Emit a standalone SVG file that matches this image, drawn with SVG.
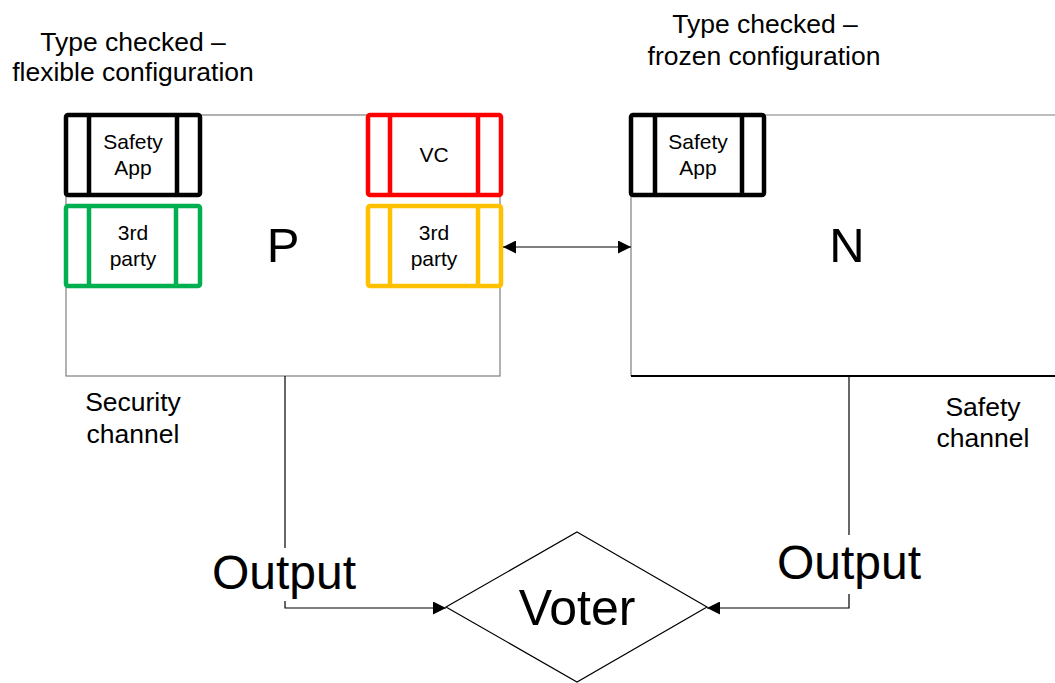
<svg xmlns="http://www.w3.org/2000/svg" width="1055" height="683" viewBox="0 0 1055 683">
<style>
text{font-family:"Liberation Sans",Arial,sans-serif;fill:#000;text-anchor:middle}
.lbl{font-size:26.5px}
.box{fill:#fff;stroke-width:4.5}
.bar{stroke-width:4.5}
.bt{font-size:21px}
.big{font-size:49px}
.huge{font-size:48px}
.vot{font-size:50px}
.con{fill:none;stroke:#000;stroke-width:1.2}
</style>
<defs>
<marker id="ah" viewBox="0 0 10 10" refX="10" refY="5" markerWidth="16" markerHeight="13" markerUnits="userSpaceOnUse" orient="auto-start-reverse">
<path d="M0,0 L10,5 L0,10 Z" fill="#000"/>
</marker>
</defs>
<rect width="1055" height="683" fill="#fff"/>
<g id="P">
<rect x="66" y="115" width="434" height="261" fill="#fff" stroke="#7f7f7f" stroke-width="1.2"/>
<text class="big" x="283" y="262">P</text>
</g>
<g id="N">
<path d="M1055,115 H631 V376" fill="none" stroke="#7f7f7f" stroke-width="1.2"/>
<path d="M631,376 H1055" fill="none" stroke="#000" stroke-width="1.8"/>
<text class="big" x="847" y="262">N</text>
</g>
<g id="P-safety-app">
<rect class="box" x="66" y="115" width="134" height="80" rx="2" stroke="#000"/>
<path class="bar" d="M89,115 V195 M177,115 V195" stroke="#000"/>
<text class="bt" x="133" y="149">Safety</text>
<text class="bt" x="133" y="175">App</text>
</g>
<g id="P-3rd-party">
<rect class="box" x="66" y="206" width="134" height="80" rx="2" stroke="#00B050"/>
<path class="bar" d="M89,206 V286 M176,206 V286" stroke="#00B050"/>
<text class="bt" x="133" y="240">3rd</text>
<text class="bt" x="133" y="266">party</text>
</g>
<g id="VC">
<rect class="box" x="368" y="115" width="133" height="80" rx="2" stroke="#FF0000"/>
<path class="bar" d="M390,115 V195 M478,115 V195" stroke="#FF0000"/>
<text class="bt" x="434" y="162">VC</text>
</g>
<g id="VC-3rd-party">
<rect class="box" x="368" y="206" width="133" height="80" rx="2" stroke="#FFC000"/>
<path class="bar" d="M390,206 V286 M478,206 V286" stroke="#FFC000"/>
<text class="bt" x="434" y="240">3rd</text>
<text class="bt" x="434" y="266">party</text>
</g>
<g id="N-safety-app">
<rect class="box" x="631" y="115" width="133" height="80" rx="2" stroke="#000"/>
<path class="bar" d="M655,115 V195 M742,115 V195" stroke="#000"/>
<text class="bt" x="698" y="149">Safety</text>
<text class="bt" x="698" y="175">App</text>
</g>
<g id="Voter">
<path d="M577,532 L707,607 L577,682 L446,607 Z" fill="#fff" stroke="#000" stroke-width="1.2"/>
<text class="vot" x="577" y="625">Voter</text>
</g>
<g id="labels">
<text class="lbl" x="133" y="51">Type checked –</text>
<text class="lbl" x="133" y="81">flexible configuration</text>
<text class="lbl" x="765" y="33">Type checked –</text>
<text class="lbl" x="764" y="65">frozen configuration</text>
<text class="lbl" x="133" y="411">Security</text>
<text class="lbl" x="133" y="443">channel</text>
<text class="lbl" x="983" y="416">Safety</text>
<text class="lbl" x="983" y="447">channel</text>
<text class="huge" x="284" y="589">Output</text>
<text class="huge" x="849" y="579">Output</text>
</g>
<g id="connectors">
<line class="con" x1="503" y1="247" x2="631" y2="247" marker-start="url(#ah)" marker-end="url(#ah)"/>
<path class="con" d="M285,376 V548"/>
<path class="con" d="M285,601 V608 H446" marker-end="url(#ah)"/>
<path class="con" d="M849,376 V535" stroke="#7f7f7f"/>
<path class="con" d="M849,594 V608 H707" marker-end="url(#ah)"/>
</g>
</svg>
